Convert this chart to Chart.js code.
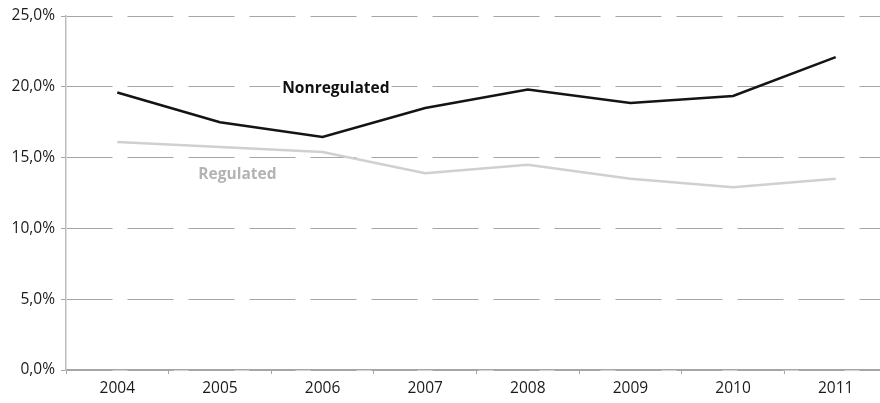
<!DOCTYPE html>
<html>
<head>
<meta charset="utf-8">
<script src="https://cdn.jsdelivr.net/npm/chart.js@4.4.1/dist/chart.umd.min.js"></script>
<style>
html,body{margin:0;padding:0;background:#fff;overflow:hidden;width:880px;height:403px;}
#wrap{position:relative;width:887px;height:403px;}
</style>
</head>
<body>
<div id="wrap"><canvas id="c"></canvas></div>
<script>
const years = ['2004','2005','2006','2007','2008','2009','2010','2011'];
const nonregulated = [19.6, 17.5, 16.45, 18.5, 19.8, 18.85, 19.35, 22.1];
const regulated = [16.1, 15.75, 15.4, 13.9, 14.5, 13.5, 12.9, 13.5];
const yTicks = [0, 5, 10, 15, 20, 25];
const seriesLabels = [
  {text: 'Nonregulated', x: 2.13, y: 19.9, color: '#111111'},
  {text: 'Regulated', x: 1.17, y: 13.8, color: '#b3b3b3'}
];

const labelPlugin = {
  id: 'seriesLabels',
  afterDatasetsDraw(chart) {
    const {ctx, scales} = chart;
    ctx.save();
    ctx.font = 'bold 15.5px "Open Sans"';
    ctx.textAlign = 'center';
    ctx.textBaseline = 'middle';
    seriesLabels.forEach(l => {
      const x = scales.x.getPixelForValue(l.x);
      const y = scales.y.getPixelForValue(l.y);
      const w = ctx.measureText(l.text).width;
      ctx.fillStyle = '#ffffff';
      ctx.fillRect(x - w/2 - 2, y - 9, w + 4, 18);
      ctx.fillStyle = l.color;
      ctx.fillText(l.text, x, y);
    });
    ctx.restore();
  }
};

new Chart(document.getElementById('c'), {
  type: 'line',
  data: {
    labels: years,
    datasets: [
      {label: 'Nonregulated', data: nonregulated, borderColor: '#141414', borderWidth: 2.5, pointRadius: 0, tension: 0, fill: false},
      {label: 'Regulated', data: regulated, borderColor: '#d0d0d0', borderWidth: 2.5, pointRadius: 0, tension: 0, fill: false}
    ]
  },
  options: {
    responsive: true,
    maintainAspectRatio: false,
    animation: false,
    layout: {padding: {top: 16, right: 0, bottom: 0, left: 0}},
    plugins: {legend: {display: false}, tooltip: {enabled: false}},
    scales: {
      x: {
        type: 'category',
        offset: true,
        grid: {offset: true, drawOnChartArea: false, drawTicks: true, tickLength: 4, color: '#a6a6a6'},
        border: {display: true, color: '#a6a6a6', width: 1.5},
        ticks: {color: '#1a1a1a', font: {family: 'Open Sans', size: 15.5}, padding: 5, maxRotation: 0, autoSkip: false},
        afterFit(s) { s.height = 33; }
      },
      y: {
        min: 0, max: 25,
        afterBuildTicks(s) { s.ticks = yTicks.map(v => ({value: v})); },
        grid: {color: '#a6a6a6', lineWidth: 1, drawTicks: true, tickLength: 5, tickColor: '#a6a6a6', tickBorderDash: []},
        border: {display: true, color: '#bdbdbd', width: 1.5, dash: [46, 15]},
        ticks: {color: '#1a1a1a', font: {family: 'Open Sans', size: 15.5}, padding: 6,
          callback: v => v.toFixed(1).replace('.', ',') + '%'},
        afterFit(s) { s.width = 66; }
      }
    }
  },
  plugins: [labelPlugin]
});
</script>
</body>
</html>
